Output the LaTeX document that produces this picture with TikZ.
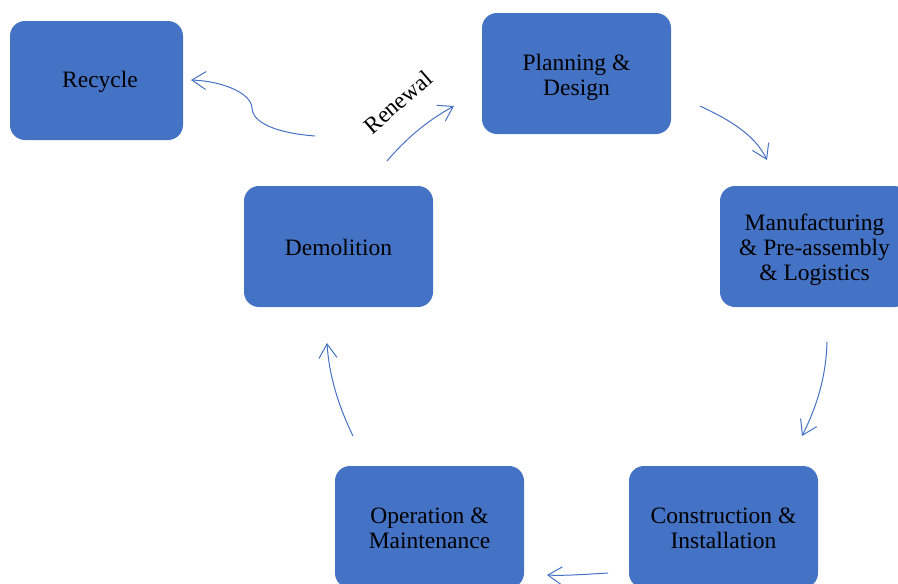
\documentclass[tikz,border=0pt]{standalone}
\usepackage{fontspec}
\setmainfont{Liberation Serif}
\usetikzlibrary{arrows.meta}
\definecolor{boxblue}{HTML}{4472C4}
\begin{document}
\begin{tikzpicture}[x=1pt,y=-1pt,
  stage/.style={draw=none, fill=boxblue, rounded corners=15pt, minimum width=189pt, minimum height=121pt,
    inner sep=0pt},
  stagetext/.style={align=center, inner sep=0pt, font=\fontsize{23.5}{25}\selectfont, text=black},
  flow/.style={draw=boxblue, line width=1pt, -{Straight Barb[length=14pt,width=18pt]}}]
\useasboundingbox (0,0) rectangle (898,584);
\clip (0,0) rectangle (898,584);
\node[stage, minimum width=173pt, minimum height=119pt,
  label={[stagetext, xshift=3.5pt, yshift=-1.5pt]center:Recycle}] (rec) at (96.5,80.5) {};
\node[stage, label={[stagetext, yshift=-3.5pt]center:Planning \&\\Design}] (plan) at (576.5,73.5) {};
\node[stage, label={[stagetext, yshift=-3pt]center:Manufacturing\\\& Pre-assembly\\\& Logistics}] (manu) at (814.5,246.5) {};
\node[stage, label={[stagetext, yshift=-1pt]center:Demolition}] (demo) at (338.5,246.5) {};
\node[stage, minimum height=122pt, label={[stagetext, yshift=-1pt]center:Operation \&\\Maintenance}] (oper) at (429.5,527) {};
\node[stage, minimum height=122pt, label={[stagetext, yshift=-1pt]center:Construction \&\\Installation}] (cons) at (723.5,527) {};
% connector end points
\coordinate (a1) at (700,106); \coordinate (b1) at (767,160);
\coordinate (a2) at (827,342); \coordinate (b2) at (802,436);
\coordinate (a3) at (608,573); \coordinate (b3) at (547,575);
\coordinate (a4) at (353,436); \coordinate (b4) at (327,343);
\coordinate (a5) at (387,161); \coordinate (b5) at (454,106);
\coordinate (a6) at (315,136); \coordinate (m6) at (252,108); \coordinate (b6) at (191,80);
\draw[flow] (a1) .. controls (730,120) and (755,135) .. (b1);
\draw[flow] (a2) .. controls (826,380) and (815,410) .. (b2);
\draw[flow] (a3) .. controls (590,574) and (565,576) .. (b3);
\draw[flow] (a4) .. controls (338,405) and (329,375) .. (b4);
\draw[flow] (a5) .. controls (405,140) and (425,122) .. (b5);
\draw[flow] (a6) .. controls (265,132) and (252,118) .. (m6) .. controls (251,92) and (220,81) .. (b6);
\node[rotate=41, font=\fontsize{23.5}{25}\selectfont, inner sep=0pt] (ren) at (398,102) {Renewal};
\end{tikzpicture}
\end{document}
